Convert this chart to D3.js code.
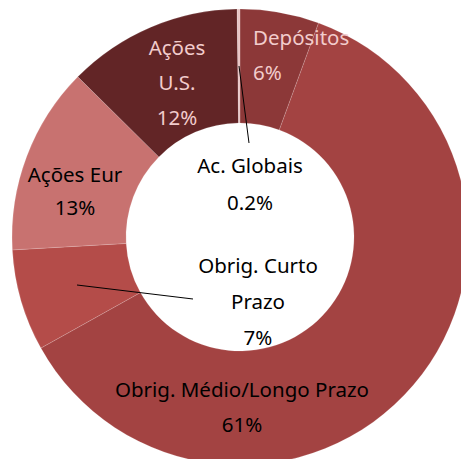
<!DOCTYPE html>
<html>
<head>
<meta charset="utf-8">
<script src="https://cdn.jsdelivr.net/npm/d3@7"></script>
<style>
  body { margin: 0; background: #fff; }
  text { font-family: "Noto Sans", sans-serif; font-size: 20.5px; }
</style>
</head>
<body>
<div id="chart"></div>
<script>
// slices, clockwise from 12 o'clock
const categories = ["Depósitos", "Obrig. Médio/Longo Prazo", "Obrig. Curto Prazo", "Ações Eur", "Ações U.S.", "Ac. Globais"];
const values = [5.6, 61.3, 7.2, 13.3, 12.4, 0.2];
const pctLabels = ["6%", "61%", "7%", "13%", "12%", "0.2%"];
const colors = ["#8c3838", "#a34342", "#b44c49", "#c87270", "#622526", "#e8c4c4"];

const width = 461, height = 459;
const cx = 240, cy = 237, outerR = 228, innerR = 114;

let svg = d3.select("#chart")
    .append("svg")
    .attr("width", width)
    .attr("height", height);

let g = svg.append("g").attr("transform", `translate(${cx},${cy})`);

let pie = d3.pie().sort(null).value(d => d.v);
let arc = d3.arc().innerRadius(innerR).outerRadius(outerR);

let data = categories.map((c, i) => ({ c: c, v: values[i], p: pctLabels[i], col: colors[i] }));
let arcs = pie(data);

g.selectAll("path")
    .data(arcs)
    .join("path")
    .attr("d", arc)
    .attr("fill", d => d.data.col)
    .attr("stroke", "#fff")
    .attr("stroke-opacity", 0.25)
    .attr("stroke-width", 0.6);

// label layout (lines, anchor, position, colour) per slice
const labelSpec = [
    { lines: ["Depósitos", "6%"], x: 253, y: 45, anchor: "start", fill: "#f2cccc", dy: 35 },
    { lines: ["Obrig. Médio/Longo Prazo", "61%"], x: 242, y: 397, anchor: "middle", fill: "#000", dy: 35 },
    { lines: ["Obrig. Curto", "Prazo", "7%"], x: 258, y: 273, anchor: "middle", fill: "#000", dy: 36 },
    { lines: ["Ações Eur", "13%"], x: 75, y: 182, anchor: "middle", fill: "#000", dy: 33 },
    { lines: ["Ações", "U.S.", "12%"], x: 177, y: 55, anchor: "middle", fill: "#f2cccc", dy: 35 },
    { lines: ["Ac. Globais", "0.2%"], x: 250, y: 173, anchor: "middle", fill: "#000", dy: 37 }
];

// leader lines
svg.append("line")
    .attr("x1", 239).attr("y1", 66).attr("x2", 249).attr("y2", 143)
    .attr("stroke", "#000").attr("stroke-width", 1);
svg.append("line")
    .attr("x1", 77).attr("y1", 285).attr("x2", 193).attr("y2", 299)
    .attr("stroke", "#000").attr("stroke-width", 1);

labelSpec.forEach(s => {
    s.lines.forEach((t, i) => {
        svg.append("text")
            .attr("x", s.x)
            .attr("y", s.y + i * s.dy)
            .attr("text-anchor", s.anchor)
            .attr("fill", s.fill)
            .text(t);
    });
});
</script>
</body>
</html>
